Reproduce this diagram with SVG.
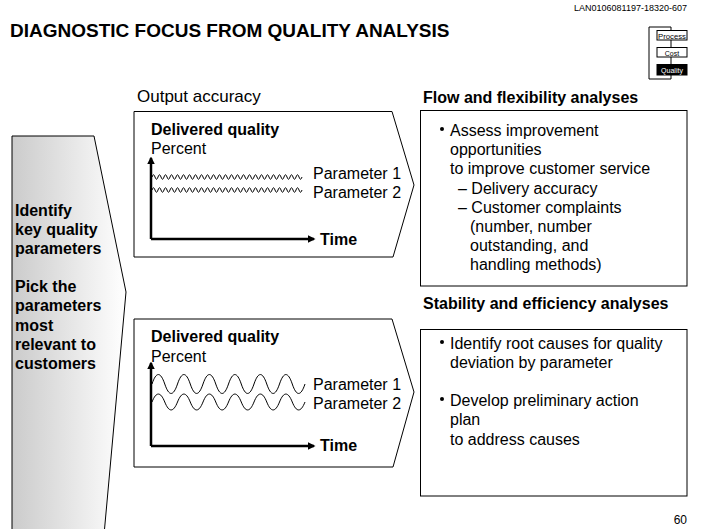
<svg xmlns="http://www.w3.org/2000/svg" width="706" height="529" viewBox="0 0 706 529">
<style>
text{font-family:"Liberation Sans",Arial,sans-serif;fill:#000}
.t{font-size:16px}
.b{font-size:16px;font-weight:bold}
.box{fill:#fff;stroke:#000;stroke-width:1}
.ax{fill:none;stroke:#000;stroke-width:2.5}
.wv{fill:none;stroke:#000;stroke-width:1}
.sm{font-size:7px}
</style>
<defs>
<linearGradient id="g" x1="0" y1="0" x2="1" y2="0">
<stop offset="0" stop-color="#cbcbcb"/>
<stop offset="1" stop-color="#ffffff"/>
</linearGradient>
<marker id="ah" viewBox="0 0 10 10" refX="8" refY="5" markerWidth="3" markerHeight="3" orient="auto" markerUnits="strokeWidth">
<path d="M0,0 L10,5 L0,10 z" fill="#000"/>
</marker>
</defs>
<rect width="706" height="529" fill="#fff"/>

<g id="header">
<text x="10" y="37" style="font-size:19px;font-weight:bold">DIAGNOSTIC FOCUS FROM QUALITY ANALYSIS</text>
<text x="687" y="11" text-anchor="end" style="font-size:9px">LAN0106081197-18320-607</text>
<text x="687" y="524" text-anchor="end" style="font-size:12px">60</text>
</g>

<g id="tracker">
<path d="M671,27 H649 V79 H671 M671,27 V79" fill="none" stroke="#000" stroke-width="1"/>
<rect x="657" y="30.5" width="30" height="9.5" class="box"/>
<text x="672" y="38.5" text-anchor="middle" class="sm" textLength="28" lengthAdjust="spacingAndGlyphs">Process</text>
<rect x="657" y="47.5" width="30" height="9.5" class="box"/>
<text x="672" y="55.5" text-anchor="middle" class="sm">Cost</text>
<rect x="657" y="64.5" width="30" height="10.5" fill="#000" stroke="#000"/>
<text x="672" y="73" text-anchor="middle" class="sm" style="fill:#fff">Quality</text>
</g>

<g id="left-arrow">
<polygon points="12,136 94,136 126,292 104,535 12,535" fill="url(#g)" stroke="#000" stroke-width="1"/>
<text class="b"><tspan x="15" y="216">Identify</tspan><tspan x="15" y="235">key quality</tspan><tspan x="15" y="254">parameters</tspan><tspan x="15" y="292">Pick the</tspan><tspan x="15" y="311">parameters</tspan><tspan x="15" y="331">most</tspan><tspan x="15" y="350">relevant to</tspan><tspan x="15" y="369">customers</tspan></text>
</g>

<g id="output-accuracy">
<text x="137" y="102" style="font-size:17px">Output accuracy</text>
<polygon points="134,111.5 392,111.5 414,185 393,257 134,257" class="box"/>
<text x="151" y="135" class="b">Delivered quality</text>
<text x="151" y="154" class="t">Percent</text>
<path d="M152,177 q1.5,-4.5 3,0 t3,0 t3,0 t3,0 t3,0 t3,0 t3,0 t3,0 t3,0 t3,0 t3,0 t3,0 t3,0 t3,0 t3,0 t3,0 t3,0 t3,0 t3,0 t3,0 t3,0 t3,0 t3,0 t3,0 t3,0 t3,0 t3,0 t3,0 t3,0 t3,0 t3,0 t3,0 t3,0 t3,0 t3,0 t3,0 t3,0 t3,0 t3,0 t3,0 t3,0 t3,0 t3,0 t3,0 t3,0 t3,0 t3,0 t3,0 t3,0 t3,0" class="wv"/>
<path d="M152,190 q1.5,-4.5 3,0 t3,0 t3,0 t3,0 t3,0 t3,0 t3,0 t3,0 t3,0 t3,0 t3,0 t3,0 t3,0 t3,0 t3,0 t3,0 t3,0 t3,0 t3,0 t3,0 t3,0 t3,0 t3,0 t3,0 t3,0 t3,0 t3,0 t3,0 t3,0 t3,0 t3,0 t3,0 t3,0 t3,0 t3,0 t3,0 t3,0 t3,0 t3,0 t3,0 t3,0 t3,0 t3,0 t3,0 t3,0 t3,0 t3,0 t3,0 t3,0 t3,0" class="wv"/>
<text x="313" y="179" class="t">Parameter 1</text>
<text x="313" y="198" class="t">Parameter 2</text>
<path d="M151,239 V158" class="ax" marker-end="url(#ah)"/>
<path d="M151,239 H314" class="ax" marker-end="url(#ah)"/>
<text x="320" y="245" class="b">Time</text>
</g>

<g id="stability-chart">
<polygon points="134,319 392,319 414,392 393,467 134,467" class="box"/>
<text x="151" y="342" class="b">Delivered quality</text>
<text x="151" y="362" class="t">Percent</text>
<path d="M152,384 c4.2,-12.6 8.5,-12.6 12.75,0 s8.5,12.6 12.75,0 s8.5,-12.6 12.75,0 s8.5,12.6 12.75,0 s8.5,-12.6 12.75,0 s8.5,12.6 12.75,0 s8.5,-12.6 12.75,0 s8.5,12.6 12.75,0 s8.5,-12.6 12.75,0 s8.5,12.6 12.75,0 s8.5,-12.6 12.75,0 s8.5,12.6 12.75,0" class="wv"/>
<path d="M152,402 c4.2,-10.6 8.5,-10.6 12.75,0 s8.5,10.6 12.75,0 s8.5,-10.6 12.75,0 s8.5,10.6 12.75,0 s8.5,-10.6 12.75,0 s8.5,10.6 12.75,0 s8.5,-10.6 12.75,0 s8.5,10.6 12.75,0 s8.5,-10.6 12.75,0 s8.5,10.6 12.75,0 s8.5,-10.6 12.75,0 s8.5,10.6 12.75,0" class="wv"/>
<text x="313" y="390" class="t">Parameter 1</text>
<text x="313" y="409" class="t">Parameter 2</text>
<path d="M151,446 V363" class="ax" marker-end="url(#ah)"/>
<path d="M151,446 H314" class="ax" marker-end="url(#ah)"/>
<text x="320" y="451" class="b">Time</text>
</g>

<g id="flow-flexibility">
<text x="423" y="103" class="b">Flow and flexibility analyses</text>
<rect x="420.5" y="110.5" width="266.5" height="175.5" class="box"/>
<circle cx="442" cy="129" r="2" fill="#000"/>
<text class="t"><tspan x="450" y="136">Assess improvement</tspan><tspan x="450" y="155">opportunities</tspan><tspan x="450" y="174">to improve customer service</tspan><tspan x="458" y="194">– Delivery accuracy</tspan><tspan x="458" y="213">– Customer complaints</tspan><tspan x="470" y="232">(number, number</tspan><tspan x="470" y="251">outstanding, and</tspan><tspan x="470" y="270">handling methods)</tspan></text>
</g>

<g id="stability-efficiency">
<text x="423" y="309" class="b">Stability and efficiency analyses</text>
<rect x="420.5" y="329.5" width="266.5" height="166.5" class="box"/>
<circle cx="442" cy="342" r="2" fill="#000"/>
<circle cx="442" cy="399" r="2" fill="#000"/>
<text class="t"><tspan x="450" y="349">Identify root causes for quality</tspan><tspan x="450" y="368">deviation by parameter</tspan><tspan x="450" y="406">Develop preliminary action</tspan><tspan x="450" y="425">plan</tspan><tspan x="450" y="445">to address causes</tspan></text>
</g>
</svg>
